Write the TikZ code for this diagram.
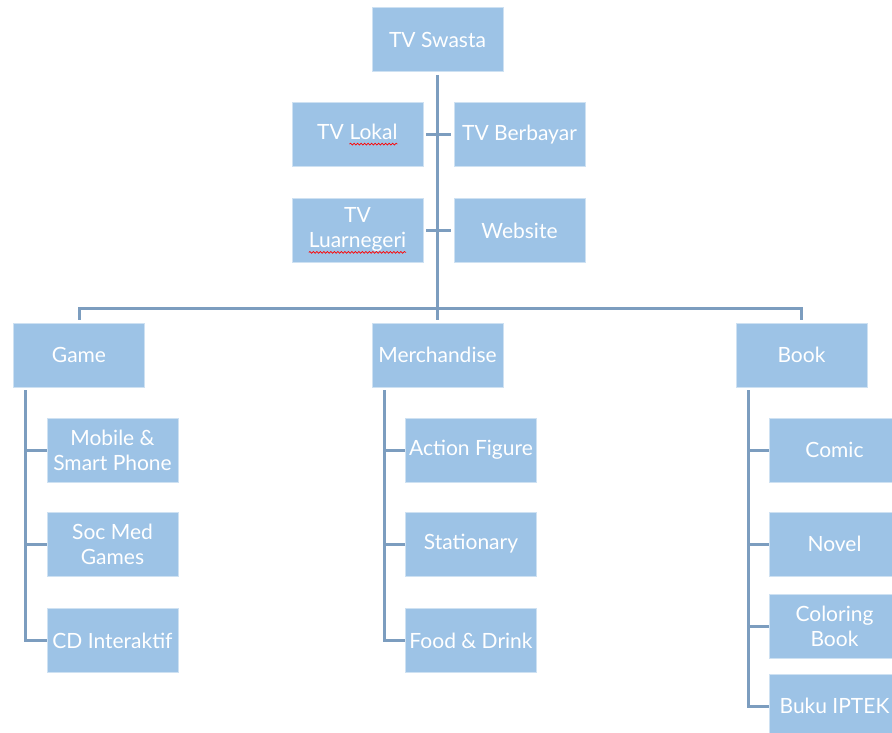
\documentclass[tikz,border=0pt]{standalone}
\usepackage{fontspec}
\setmainfont{Lato}
\usetikzlibrary{decorations.pathmorphing}
\definecolor{boxblue}{HTML}{9DC3E6}
\definecolor{linkblue}{HTML}{7C9DBF}
\newcommand\typo[1]{\tikz[baseline=(w.base)]{\node[inner sep=0pt,outer sep=0pt,minimum size=0pt,
		draw=none,fill=none,text=white] (w) {#1};
	\draw[red,line width=0.7pt,decorate,decoration={snake,amplitude=0.9pt,segment length=3.5pt}]
	([yshift=-5pt]w.base west) -- ([yshift=-5pt]w.base east);}}

\begin{document}
\begin{tikzpicture}[x=1pt,y=-1pt,
	box/.style={rectangle,fill=boxblue,draw=boxblue!50!white,line width=0.6pt,text=white,
		minimum width=131pt,minimum height=64pt,inner sep=1pt,align=center,
		font=\fontsize{21}{25}\selectfont},
	link/.style={draw=linkblue,line width=3pt},
	gap/.style={shorten <=3pt,shorten >=3pt}]
	\path[use as bounding box,clip] (0,0) rectangle (892,733);
	\node[box] (swasta) at (437.5,39.5) {TV Swasta};
	\node[box] (lokal) at (357.5,134.5) {TV \typo{Lokal}};
	\node[box] (berbayar) at (519.5,134.5) {TV Berbayar};
	\node[box] (luar) at (357.5,230.5) {TV\\\typo{Luarnegeri}};
	\node[box] (web) at (519.5,230.5) {Website};
	\node[box] (game) at (79,355) {Game};
	\node[box] (merch) at (437.5,355) {Merchandise};
	\node[box] (book) at (801.5,355) {Book};
	\node[box] (mobile) at (112.5,450) {Mobile \&\\Smart Phone};
	\node[box] (socmed) at (112.5,544) {Soc Med\\Games};
	\node[box] (cd) at (112.5,640.5) {CD Interaktif};
	\node[box] (action) at (471,450) {Action Figure};
	\node[box] (stationary) at (471,544) {Stationary};
	\node[box] (food) at (471,640.5) {Food \& Drink};
	\node[box] (comic) at (834.5,450) {Comic};
	\node[box] (novel) at (834.5,544) {Novel};
	\node[box] (coloring) at (834.5,626.5) {Coloring\\Book};
	\node[box] (iptek) at (834.5,706) {Buku IPTEK};
	\coordinate (bus) at (437.5,308);
	\coordinate (gx) at ([xshift=12.5pt,yshift=-3pt]game.south west);
	\coordinate (mx) at ([xshift=12.5pt,yshift=-3pt]merch.south west);
	\coordinate (bx) at ([xshift=12.5pt,yshift=-3pt]book.south west);
	\draw[link,gap] (swasta) -- (merch);
	\draw[link,gap] (lokal) -- (berbayar);
	\draw[link,gap] (luar) -- (web);
	\draw[link,gap] (game) |- (bus) -| (book);
	\draw[link] (gx) |- (cd);
	\draw[link] (mobile.west) -- (mobile.west -| gx);
	\draw[link] (socmed.west) -- (socmed.west -| gx);
	\draw[link] (mx) |- (food);
	\draw[link] (action.west) -- (action.west -| mx);
	\draw[link] (stationary.west) -- (stationary.west -| mx);
	\draw[link] (bx) |- (iptek);
	\draw[link] (comic.west) -- (comic.west -| bx);
	\draw[link] (novel.west) -- (novel.west -| bx);
	\draw[link] (coloring.west) -- (coloring.west -| bx);
\end{tikzpicture}
\end{document}
